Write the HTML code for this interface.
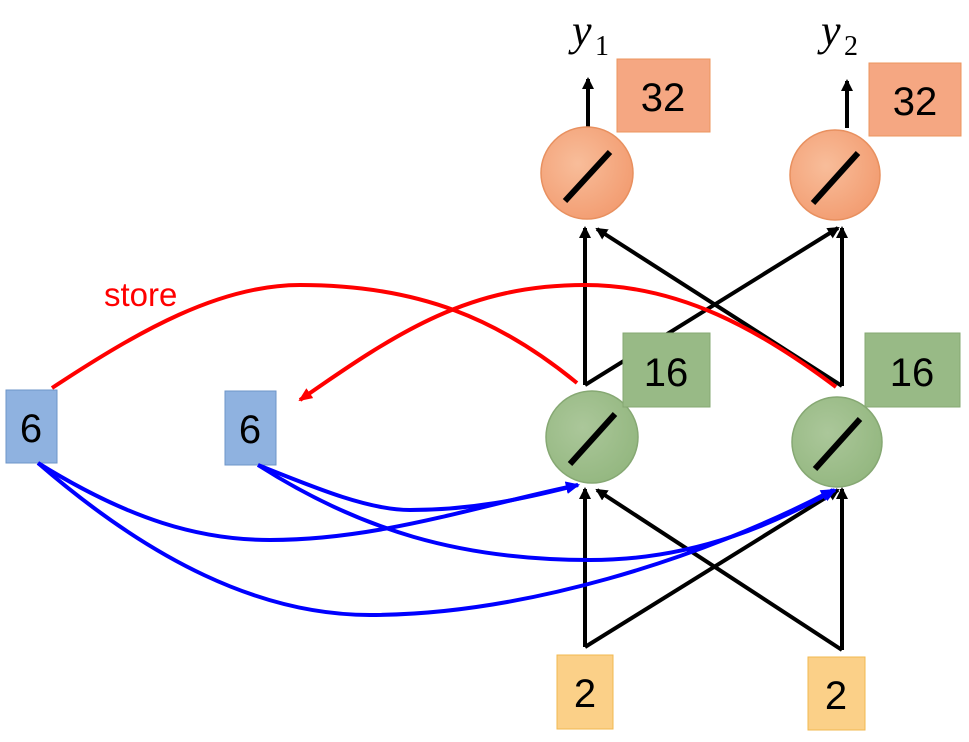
<!DOCTYPE html>
<html><head><meta charset="utf-8"><style>
html,body{margin:0;padding:0;background:#fff;}
svg{display:block;}
</style></head><body>
<svg width="969" height="742" viewBox="0 0 969 742" xmlns="http://www.w3.org/2000/svg" style="font-family:'Liberation Sans',sans-serif">
<defs>
<marker id="ab" markerWidth="12" markerHeight="12" refX="10" refY="6" orient="auto" markerUnits="userSpaceOnUse"><path d="M0,0 L12,6 L0,12 z" fill="#000"/></marker>
<marker id="ar" markerWidth="14" markerHeight="12" refX="12" refY="6" orient="auto" markerUnits="userSpaceOnUse"><path d="M0,0 L14,6 L0,12 z" fill="#f00"/></marker>
<marker id="abl" markerWidth="14" markerHeight="12" refX="12" refY="6" orient="auto" markerUnits="userSpaceOnUse"><path d="M0,0 L14,6 L0,12 z" fill="#00f"/></marker>
<radialGradient id="og" cx="40%" cy="40%" r="70%"><stop offset="0" stop-color="#f8bd9a"/><stop offset="1" stop-color="#f29a6e"/></radialGradient>
<radialGradient id="gg" cx="40%" cy="40%" r="70%"><stop offset="0" stop-color="#abc79a"/><stop offset="1" stop-color="#92b67e"/></radialGradient>
</defs>

<g stroke="#000" stroke-width="4" fill="none" marker-end="url(#ab)">
<line x1="588" y1="127" x2="588" y2="79"/>
<line x1="847" y1="128" x2="847" y2="81"/>
<line x1="585" y1="385" x2="585" y2="228"/>
<line x1="585" y1="385" x2="838" y2="228"/>
<line x1="842" y1="386" x2="842" y2="228"/>
<line x1="842" y1="386" x2="597" y2="229"/>
<line x1="585" y1="647" x2="585" y2="489"/>
<line x1="585" y1="647" x2="838" y2="490"/>
<line x1="842" y1="650" x2="842" y2="489"/>
<line x1="842" y1="650" x2="597" y2="490"/>
</g>

<circle cx="587" cy="173" r="46" fill="url(#og)" stroke="#e8905f" stroke-width="1.5"/>
<circle cx="835" cy="175" r="45" fill="url(#og)" stroke="#e8905f" stroke-width="1.5"/>
<circle cx="592" cy="437" r="46" fill="url(#gg)" stroke="#86a873" stroke-width="1.5"/>
<circle cx="837" cy="442" r="45" fill="url(#gg)" stroke="#86a873" stroke-width="1.5"/>
<g stroke="#000" stroke-width="6">
<line x1="565" y1="201" x2="610" y2="152"/>
<line x1="813" y1="203" x2="858" y2="153"/>
<line x1="570" y1="464" x2="615" y2="414"/>
<line x1="815" y1="469" x2="860" y2="419"/>
</g>

<rect x="617" y="59" width="93" height="73" fill="#f5a782" stroke="#ec955e"/>
<rect x="869" y="63" width="92" height="73" fill="#f5a782" stroke="#ec955e"/>
<rect x="623" y="333" width="87" height="74" fill="#98ba86" stroke="#86a873"/>
<rect x="865" y="333" width="95" height="74" fill="#98ba86" stroke="#86a873"/>
<rect x="6" y="390" width="51" height="73" fill="#8fb2e0" stroke="#6e95c8"/>
<rect x="225" y="391" width="51" height="74" fill="#8fb2e0" stroke="#6e95c8"/>
<rect x="557" y="655" width="56" height="74" fill="#fbd088" stroke="#f2b84f"/>
<rect x="808" y="657" width="57" height="73" fill="#fbd088" stroke="#f2b84f"/>

<g font-size="40" fill="#000" text-anchor="middle">
<text x="663" y="111">32</text>
<text x="915" y="115">32</text>
<text x="666" y="386">16</text>
<text x="912" y="386">16</text>
<text x="31" y="442">6</text>
<text x="250" y="443">6</text>
<text x="585" y="707">2</text>
<text x="836" y="709">2</text>
</g>
<text x="572" y="45" style="font-family:'Liberation Serif',serif;font-style:italic;font-size:44px">y</text>
<text x="595" y="55" style="font-family:'Liberation Serif',serif;font-size:28px">1</text>
<text x="821" y="45" style="font-family:'Liberation Serif',serif;font-style:italic;font-size:44px">y</text>
<text x="844" y="55" style="font-family:'Liberation Serif',serif;font-size:28px">2</text>

<g stroke="#f00" stroke-width="4" fill="none">
<path d="M52,388 C140,330 220,285 300,285 C420,285 500,320 577,383"/>
<path d="M836,387 C760,330 680,285 585,285 C470,285 400,330 300,400" marker-end="url(#ar)"/>
</g>
<text x="104" y="306" font-size="33" fill="#f00">store</text>

<g stroke="#00f" stroke-width="4" fill="none" marker-end="url(#abl)">
<path d="M38,463 C130,520 200,540 270,540 C380,540 480,505 578,485"/>
<path d="M38,463 C150,560 260,615 370,615 C520,615 700,560 833,490"/>
<path d="M258,465 C320,490 370,510 410,510 C470,510 520,500 578,485"/>
<path d="M258,465 C360,530 460,560 590,560 C700,560 780,520 835,490"/>
</g>
</svg>
</body></html>
